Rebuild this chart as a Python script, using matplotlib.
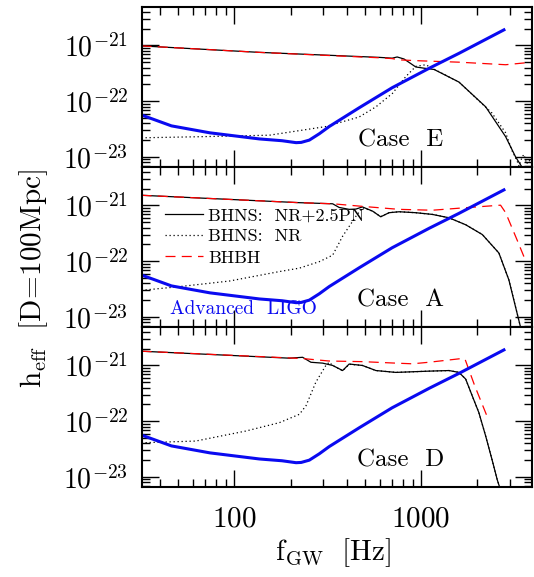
import numpy as np
import matplotlib
matplotlib.use('Agg')
import matplotlib.pyplot as plt
from matplotlib.ticker import LogLocator, NullFormatter

plt.rcParams['mathtext.fontset'] = 'cm'
plt.rcParams['font.family'] = ['cmr10', 'DejaVu Serif']
plt.rcParams['axes.formatter.use_mathtext'] = True

# Advanced LIGO (same on all panels)
ligo_f = [32, 46, 74, 136, 180, 214, 228, 252, 285, 322, 466, 700, 1107, 1596, 2780]
ligo_h = [5.6e-23, 3.6e-23, 2.7e-23, 2.1e-23, 1.95e-23, 1.8e-23, 1.82e-23, 2.0e-23, 2.6e-23,
          3.5e-23, 7.6e-23, 1.74e-22, 3.9e-22, 7.2e-22, 1.9e-21]

# Case E
e_pn_f = [31.8, 136, 596, 700, 745, 811, 937, 1038, 1175, 1596, 2220, 2840, 3210, 3470, 3600]
e_pn_h = [9.8e-22, 7.5e-22, 6.1e-22, 5.9e-22, 6.2e-22, 5.7e-22, 4.1e-22, 3.9e-22, 3.7e-22,
          2.2e-22, 7.9e-23, 2.3e-23, 1.0e-23, 6.6e-24, 5.2e-24]
e_nr_f = [31.8, 65, 154, 309, 466, 573, 703, 828, 937, 1060, 1200, 1596, 2400, 2840, 3070,
          3260, 3350, 3480, 3560, 3680, 3780, 3940]
e_nr_h = [2.2e-23, 2.3e-23, 2.45e-23, 3.5e-23, 5.2e-23, 7.9e-23, 1.38e-22, 2.75e-22, 4.2e-22,
          4.5e-22, 3.6e-22, 2.2e-22, 6.1e-23, 2.7e-23, 1.3e-23, 8.7e-24, 6.8e-24, 1.0e-23,
          1.1e-23, 7.5e-24, 8.7e-24, 8.0e-24]
e_bh_f = [31.8, 136, 596, 700, 763, 975, 1596, 2840, 3930]
e_bh_h = [9.8e-22, 7.5e-22, 6.0e-22, 5.8e-22, 5.5e-22, 5.3e-22, 5.0e-22, 4.5e-22, 5.0e-22]

# Case A
a_pn_f = [31.8, 223, 336, 364, 412, 448, 485, 550, 608, 674, 763, 937, 1149, 1412, 1734,
          2130, 2613, 2956, 3210, 3410, 3520]
a_pn_h = [1.52e-21, 1.12e-21, 1.07e-21, 9.2e-22, 8.5e-22, 8.6e-22, 9.4e-22, 7.9e-22, 6.25e-22,
          7.4e-22, 7.7e-22, 7.4e-22, 6.9e-22, 6.0e-22, 4.5e-22, 3.0e-22, 1.4e-22, 4.6e-23,
          1.5e-23, 6.6e-24, 5.0e-24]
a_nr_f = [31.8, 51, 94, 174, 223, 285, 336, 380, 448, 485, 550, 608, 674, 763, 937, 1149,
          1412, 1734, 2130, 2613, 2956, 3210, 3410, 3520]
a_nr_h = [3.0e-23, 3.5e-23, 4.4e-23, 6.5e-23, 7.5e-23, 9.8e-23, 1.28e-22, 2.8e-22, 6.4e-22,
          9.1e-22, 7.9e-22, 6.3e-22, 7.4e-22, 7.7e-22, 7.4e-22, 6.9e-22, 6.0e-22, 4.5e-22,
          3.0e-22, 1.4e-22, 4.6e-23, 1.5e-23, 6.6e-24, 5.0e-24]
a_bh_f = [31.8, 223, 336, 506, 763, 1149, 1734, 2667, 2840, 3270, 3640]
a_bh_h = [1.52e-21, 1.12e-21, 1.07e-21, 9.5e-22, 8.5e-22, 8.2e-22, 9.1e-22, 1.01e-21, 7.4e-22,
          2.4e-22, 1.0e-22]

# Case D
d_pn_f = [31.8, 197, 232, 257, 297, 336, 380, 412, 485, 573, 733, 1100, 1412, 1596, 1734,
          1880, 2040, 2220, 2400, 2560, 2680]
d_pn_h = [1.8e-21, 1.35e-21, 1.4e-21, 1.14e-21, 1.1e-21, 1.0e-21, 8.1e-22, 1.06e-21, 1.0e-21,
          8.1e-22, 7.5e-22, 7.9e-22, 8.1e-22, 7.5e-22, 5.7e-22, 2.85e-22, 1.43e-22, 5.4e-23,
          2.05e-23, 8.9e-24, 5.5e-24]
d_nr_f = [31.8, 62, 115, 174, 223, 242, 273, 309, 322, 336, 380, 412, 485, 573, 733, 1100,
          1412, 1596, 1734, 1880, 2040, 2220, 2400, 2560, 2680]
d_nr_h = [4.1e-23, 4.4e-23, 6.65e-23, 9.4e-23, 1.33e-22, 1.9e-22, 5.0e-22, 1.0e-21, 1.14e-21,
          1.0e-21, 8.0e-22, 1.05e-21, 1.0e-21, 8.1e-22, 7.5e-22, 7.9e-22, 8.1e-22, 7.5e-22,
          5.7e-22, 2.85e-22, 1.43e-22, 5.4e-23, 2.05e-23, 8.9e-24, 5.5e-24]
d_bh_f = [31.8, 232, 322, 485, 733, 900, 1100, 1650, 1720, 1940, 2300]
d_bh_h = [1.8e-21, 1.33e-21, 1.2e-21, 1.17e-21, 1.1e-21, 1.07e-21, 1.14e-21, 1.33e-21, 1.3e-21,
          4.3e-22, 1.05e-22]

cases = [('E', e_pn_f, e_pn_h, e_nr_f, e_nr_h, e_bh_f, e_bh_h),
         ('A', a_pn_f, a_pn_h, a_nr_f, a_nr_h, a_bh_f, a_bh_h),
         ('D', d_pn_f, d_pn_h, d_nr_f, d_nr_h, d_bh_f, d_bh_h)]

fig, axs = plt.subplots(3, 1, figsize=(5.34, 5.77), dpi=100, sharex=True)
fig.subplots_adjust(left=0.266, right=0.997, top=0.988, bottom=0.156, hspace=0)

for ax, (name, pf, ph, nf, nh, bf, bh) in zip(axs, cases):
    ax.set_xscale('log')
    ax.set_yscale('log')
    ax.plot(pf, ph, 'k-', lw=0.9, label='BHNS:  NR+2.5PN')
    ax.plot(nf, nh, color='k', lw=0.9, dashes=(1, 2.2), label='BHNS:  NR')
    ax.plot(bf, bh, color='red', lw=0.9, dashes=(8, 5), label='BHBH')
    ax.plot(ligo_f, ligo_h, color='#0a0af0', lw=2.2)
    ax.set_xlim(32, 3950)
    ax.set_ylim(6.6e-24, 4.9e-21)
    ax.text(0.662, 0.167, 'Case  ' + name, transform=ax.transAxes, fontsize=18,
            ha='center', va='center')
    ax.set_yticks([1e-23, 1e-22, 1e-21], labels=[r'$10^{-23}$', r'$10^{-22}$', r'$10^{-21}$'])
    ax.yaxis.set_minor_locator(LogLocator(base=10, subs=np.arange(2, 10), numticks=20))
    ax.yaxis.set_minor_formatter(NullFormatter())
    ax.tick_params(which='both', direction='in', top=True, right=True, width=1.0)
    ax.tick_params(which='major', length=12, labelsize=20, pad=10)
    ax.tick_params(which='minor', length=5.5)
    for s in ax.spines.values():
        s.set_linewidth(1.5)

axs[2].set_xticks([100, 1000], labels=[r'$100$', r'$1000$'])
axs[2].xaxis.set_minor_locator(LogLocator(base=10, subs=np.arange(2, 10), numticks=20))
axs[2].xaxis.set_minor_formatter(NullFormatter())
axs[2].tick_params(axis='x', which='major', pad=14, labelsize=21)

axs[1].legend(loc='upper left', bbox_to_anchor=(0.059, 0.745), frameon=False, fontsize=13,
              handlelength=2.1, handletextpad=0.3, labelspacing=0.3, borderaxespad=0,
              borderpad=0)
axs[1].text(0.072, 0.055, 'Advanced  LIGO', transform=axs[1].transAxes, color='#0a0af0',
            fontsize=14, ha='left', va='bottom')

fig.text(0.062, 0.518, r'$\mathrm{h_{eff}\ \ [D\!=\!100Mpc]}$', rotation=90, fontsize=21,
         ha='center', va='center')
fig.text(0.624, 0.042, r'$\mathrm{f_{GW}\ \ [Hz]}$', fontsize=21, ha='center', va='center')

fig.savefig('out.png', dpi=100)
